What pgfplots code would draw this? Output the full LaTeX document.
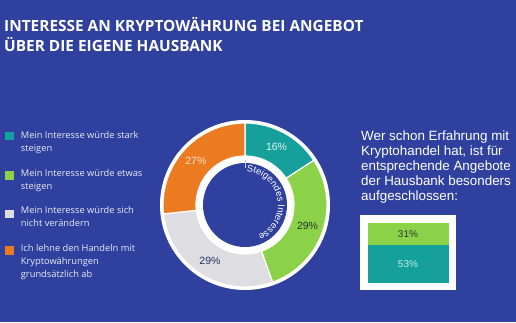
\documentclass[border=0pt]{standalone}
\usepackage{fontspec}
\usepackage{pgfplots}
\pgfplotsset{compat=1.18}
\usepackage{pgfplotstable}
\usetikzlibrary{decorations.text,calc}
\setmainfont{Open Sans}
\newfontfamily\arialfont{Liberation Sans}

\definecolor{bgblue}{RGB}{48,64,158}
\definecolor{cteal}{RGB}{22,160,155}
\definecolor{cgreen}{RGB}{140,210,72}
\definecolor{cgray}{RGB}{222,222,226}
\definecolor{corange}{RGB}{236,122,32}
\definecolor{tteal}{RGB}{228,246,246}
\definecolor{tgreen}{RGB}{30,52,40}
\definecolor{tgray}{RGB}{40,50,100}
\definecolor{torange}{RGB}{250,228,210}
\definecolor{legtext}{RGB}{232,234,244}
\definecolor{t31}{RGB}{40,60,40}
\definecolor{t53}{RGB}{190,238,238}

\newcommand\pctfont{\arialfont\fontsize{10.5}{12}\selectfont}
\newcommand\legfont{\fontsize{9.3}{11}\selectfont}

\pgfplotstableread{
value fillc textc
16 cteal tteal
29 cgreen tgreen
29 cgray tgray
27 corange torange
}\donutdata

\pgfplotstableread{
x value
0 53
}\barteal
\pgfplotstableread{
x value
0 31
}\bargreen

\begin{document}
\begin{tikzpicture}[x=1pt,y=1pt]
\fill[bgblue] (0,0) rectangle (516,322);

% title
\node[anchor=base west, text=white, font=\bfseries\fontsize{15.4}{20}\selectfont, inner sep=0pt] at (4,290.3) {INTERESSE AN KRYPTOWÄHRUNG BEI ANGEBOT};
\node[anchor=base west, text=white, font=\bfseries\fontsize{15.4}{20}\selectfont, inner sep=0pt] at (4,270.3) {ÜBER DIE EIGENE HAUSBANK};

% legend
\fill[cteal] (5,182) rectangle (13.5,190.5);
\fill[cgreen] (5,142.5) rectangle (13.5,151);
\fill[cgray] (5,104) rectangle (13.5,112.5);
\fill[corange] (5,67.5) rectangle (13.5,76);
\begin{scope}[every node/.style={anchor=base west, text=legtext, font=\legfont, inner sep=0pt}]
\node at (20.7,184) {Mein Interesse würde stark};
\node at (20.7,171) {steigen};
\node at (20.7,145.3) {Mein Interesse würde etwas};
\node at (20.7,132.5) {steigen};
\node at (20.7,109) {Mein Interesse würde sich};
\node at (20.7,96) {nicht verändern};
\node at (20.7,70.3) {Ich lehne den Handeln mit};
\node at (20.7,57.5) {Kryptowährungen};
\node at (20.7,45) {grundsätzlich ab};
\end{scope}

% donut
\begin{axis}[at={(245pt,117pt)}, anchor=origin, x=1pt, y=1pt,
  xmin=-90, xmax=90, ymin=-90, ymax=90, hide axis, clip=false]
\fill[white] (axis cs:0,0) circle[radius=85pt];
\pgfmathsetmacro{\total}{0}
\pgfplotsforeachungrouped \i in {0,...,3}{%
  \pgfplotstablegetelem{\i}{value}\of\donutdata
  \pgfmathsetmacro{\total}{\total+\pgfplotsretval}%
}
\pgfmathsetmacro{\curang}{90}
\pgfplotsforeachungrouped \i in {0,...,3}{%
  \pgfplotstablegetelem{\i}{value}\of\donutdata \let\val\pgfplotsretval
  \pgfplotstablegetelem{\i}{fillc}\of\donutdata \let\fc\pgfplotsretval
  \pgfplotstablegetelem{\i}{textc}\of\donutdata \let\tc\pgfplotsretval
  \pgfmathsetmacro{\nextang}{\curang-\val*360/\total}%
  \pgfmathsetmacro{\midang}{(\curang+\nextang)/2}%
  \pgfmathsetmacro{\xa}{82*cos(\curang)}%
  \pgfmathsetmacro{\ya}{82*sin(\curang)}%
  \pgfmathsetmacro{\xb}{49*cos(\nextang)}%
  \pgfmathsetmacro{\yb}{49*sin(\nextang)}%
  \pgfmathsetmacro{\xm}{66*cos(\midang)}%
  \pgfmathsetmacro{\ym}{66*sin(\midang)}%
  \edef\cmd{\noexpand\fill[fill=\fc, draw=white, line width=1.2pt] (axis cs:\xa,\ya) arc[start angle=\curang, end angle=\nextang, radius=82pt] -- (axis cs:\xb,\yb) arc[start angle=\nextang, end angle=\curang, radius=49pt] -- cycle;
  \noexpand\node[font=\noexpand\pctfont, text=\tc] at (axis cs:\xm,\ym) {\val\noexpand\%};}%
  \cmd
  \global\let\curang\nextang
}
\fill[bgblue] (axis cs:0,0) circle[radius=42pt];
\end{axis}

% curved text
\draw[color={rgb,255:red,200;green,208;blue,240}, line width=0.8pt] (245.7,154) -- (245.7,162);
\path[decorate, decoration={text along path, text={|\arialfont\fontsize{9.4}{10}\selectfont|Steigendes Interesse}, text align={left}, text color=white}]
  ($(245,117)+(87:33pt)$) arc[start angle=87, end angle=-80, radius=33pt];

% right text
\begin{scope}[every node/.style={anchor=base west, text=white, font=\arialfont\fontsize{13.4}{15}\selectfont, inner sep=0pt}]
\node at (361,181.3) {Wer schon Erfahrung mit};
\node at (361,166.3) {Kryptohandel hat, ist für};
\node at (361,151.3) {entsprechende Angebote};
\node at (361,136.3) {der Hausbank besonders};
\node at (361,121.3) {aufgeschlossen:};
\end{scope}

% stacked bar
\begin{axis}[at={(360pt,32pt)}, anchor=south west, scale only axis,
  width=96pt, height=75pt, xmin=-1, xmax=1, ymin=-10, ymax=95,
  ybar stacked, bar width=81pt, axis line style={draw=none}, ticks=none,
  axis background/.style={fill=white}, clip=false]
\addplot[fill=cteal, draw=none] table[x=x, y=value] {\barteal};
\addplot[fill=cgreen, draw=none] table[x=x, y=value] {\bargreen};
\coordinate (l53) at (axis cs:0,26.5);
\coordinate (l31) at (axis cs:0,68.5);
\end{axis}
\node[font=\arialfont\fontsize{10}{12}\selectfont, text=t53] at (l53) {53\%};
\node[font=\arialfont\fontsize{10}{12}\selectfont, text=t31] at (l31) {31\%};
\end{tikzpicture}
\end{document}
